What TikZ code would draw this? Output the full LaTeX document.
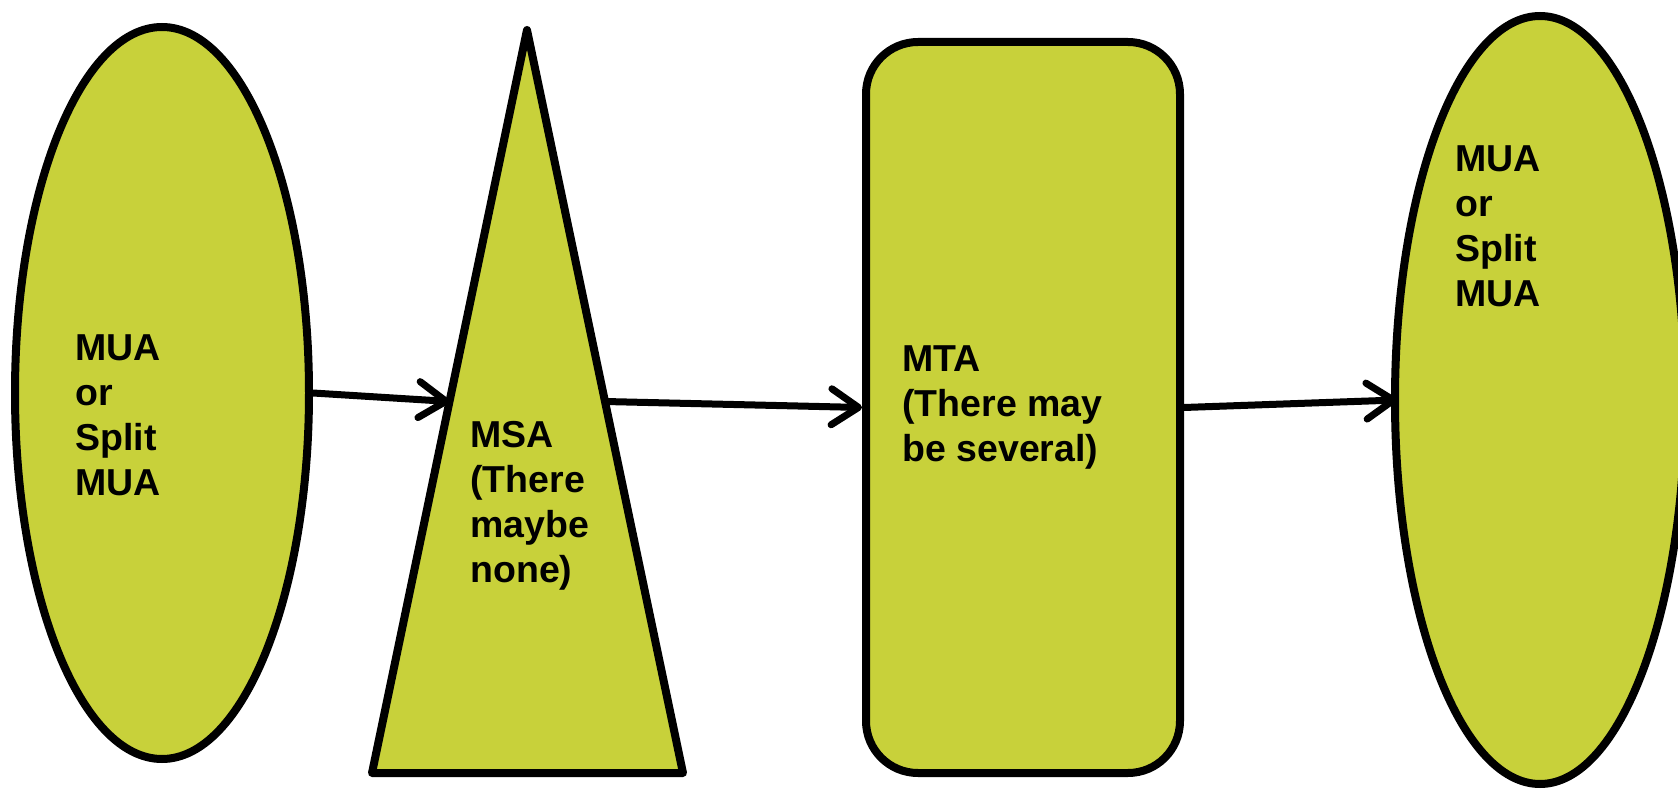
\documentclass[tikz,border=0pt]{standalone}
\usepackage{fontspec}
\setmainfont{Liberation Sans}
\usepackage{xcolor}
\usetikzlibrary{shapes.geometric,arrows.meta,calc}
\definecolor{agentfill}{HTML}{C8D13A}
\begin{document}
\begin{tikzpicture}[x=0.5pt,y=0.5pt,yscale=-1,
		blob/.style={draw=black,fill=agentfill,line width=4pt,inner sep=0pt},
		txt/.style={anchor=base west,inner sep=0pt,align=left,font={\fontsize{18.75pt}{22.5pt}\selectfont\bfseries}},
		link/.style={line width=3.5pt,-{Straight Barb[length=13.5pt,width=18pt,round]}}]
	\useasboundingbox (0,0) rectangle (1678,791);
	\node [blob,ellipse,minimum width=147pt,minimum height=366pt] (muaL) at (162,393) {};
	\coordinate (apex) at (527,30);
	\coordinate (bl) at (372,773);
	\coordinate (br) at (683,773);
	\draw [blob,line join=round] (apex) -- (br) -- (bl) -- cycle;
	\coordinate (msaIn) at ($(apex)!0.5!(bl)$);
	\coordinate (msaOut) at ($(apex)!0.5!(br)$);
	\node [blob,rectangle,rounded corners=26pt,minimum width=157pt,minimum height=365.5pt] (mta) at (1023,407.5) {};
	\node [blob,ellipse,minimum width=145pt,minimum height=384pt] (muaR) at (1540,400) {};
	\node [txt] (muaLtxt) at (75,495) {MUA\\or\\Split\\MUA};
	\node [txt] (msatxt) at (470,582) {MSA\\(There\\maybe\\none)};
	\node [txt] (mtatxt) at (902,462) {MTA\\(There may\\be several)};
	\node [txt] (muaRtxt) at (1455,307) {MUA\\or\\Split\\MUA};
	\draw [link] (muaL.east) -- (msaIn);
	\draw [link] (msaOut) -- (mta.west);
	\draw [link] (mta.east) -- ([xshift=3pt]muaR.west);
\end{tikzpicture}
\end{document}
